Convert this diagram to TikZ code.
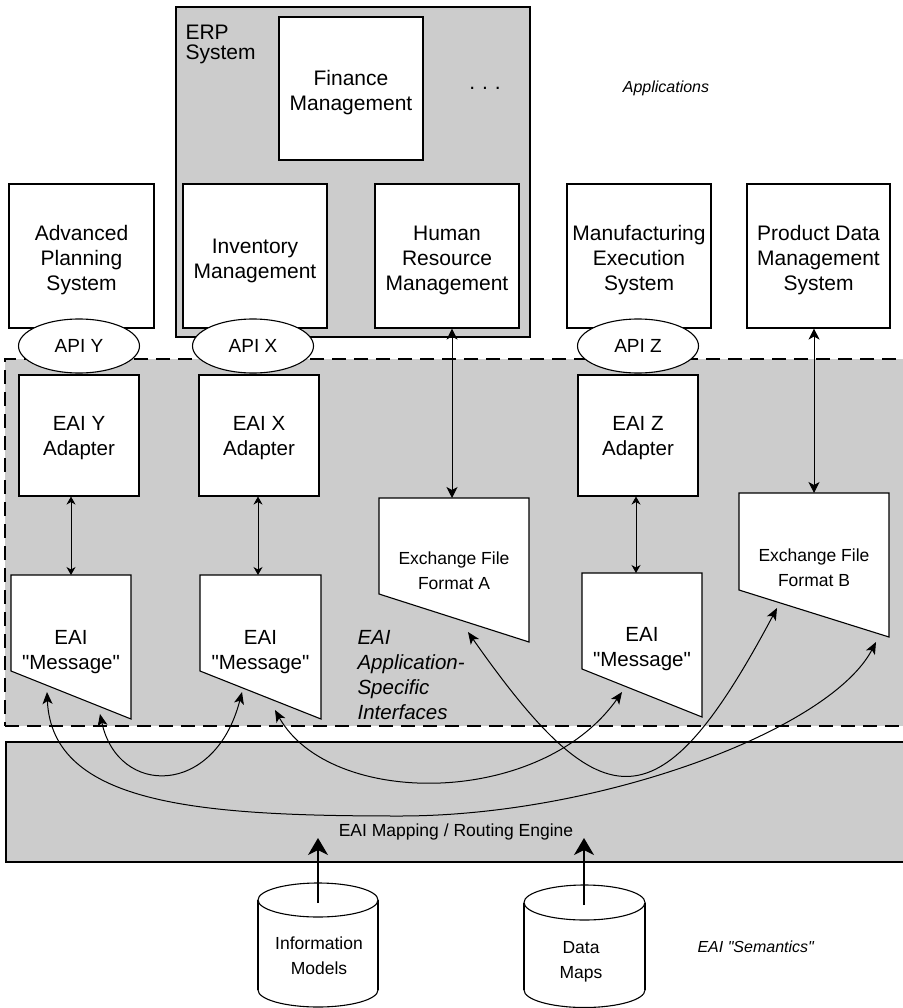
\documentclass[tikz,border=0pt]{standalone}
\usepackage{fontspec}
\setmainfont{Liberation Sans}[Ligatures=TeXOff]
\usetikzlibrary{arrows.meta,shapes.geometric}
\definecolor{eaigray}{HTML}{CCCCCC}
\newcommand{\fntBox}{\fontsize{21}{25}\selectfont}
\newcommand{\fntMsg}{\fontsize{20.5}{25}\selectfont}
\newcommand{\fntSmall}{\fontsize{17.5}{25}\selectfont}
\newcommand{\fntApi}{\fontsize{19}{22}\selectfont}
\newcommand{\fntItal}{\fontsize{16}{20}\selectfont\itshape}
\begin{document}
\begin{tikzpicture}[x=1pt,y=-1pt,line width=1.1pt,
  appbox/.style={draw,fill=white,inner sep=0pt,minimum width=144pt,minimum height=144pt},
  boxtext/.style={align=center,inner sep=0pt,font=\fntBox},
  adapter/.style={draw,fill=white,inner sep=0pt,minimum width=120pt,minimum height=121pt},
  apinode/.style={ellipse,draw,fill=white,inner sep=0pt,font=\fntApi,minimum width=121pt,minimum height=54pt},
  region/.style={draw,fill=eaigray,inner sep=0pt},
  msgtext/.style={align=center,inner sep=0pt,font=\fntMsg},
  exttext/.style={align=center,inner sep=0pt,font=\fntSmall},
  shapeline/.style={draw,fill=white,line join=miter},
  itlabel/.style={align=left,inner sep=0pt,font=\fntMsg\itshape},
  dblsmall/.style={{Stealth[length=8pt,width=9pt,inset=2.5pt]}-{Stealth[length=8pt,width=9pt,inset=2.5pt]},line width=0.9pt},
  dblmid/.style={{Stealth[length=11pt,width=11pt,inset=3pt]}-{Stealth[length=11pt,width=11pt,inset=3pt]},line width=1pt},
  curvearrow/.style={{Stealth[length=12pt,width=10pt,inset=3pt]}-{Stealth[length=12pt,width=10pt,inset=3pt]},line width=1pt},
  bigarrow/.style={-{Stealth[length=17pt,width=20pt,inset=5pt]},line width=1.2pt}
]
\useasboundingbox (0,0) rectangle (902,1008);

% background regions
\node[region,dashed,dash pattern=on 14pt off 8pt,minimum width=900pt,minimum height=367pt] (eai) at (455,542.5) {};
\node[region,minimum width=899pt,minimum height=120pt] (engine) at (455.5,802) {};
\node[region,minimum width=354pt,minimum height=330pt] (erp) at (353,172) {};

% labels
\node[align=left,inner sep=0pt,font=\fontsize{21}{20}\selectfont,anchor=west] (erplabel) at (185,44) {ERP\\System};
\node[appbox,minimum height=143pt] (fin) at (351,88.5) {};
\node[boxtext] (finT) at (351,92.5) {Finance\\Management};
\node[inner sep=0pt,font=\fntBox] (dots) at (485,88) {.\,\,.\,\,.};
\node[inner sep=0pt,font=\fntItal] (apps) at (666,88) {Applications};

% application boxes
\node[appbox,minimum width=145pt] (adv) at (81.5,256) {};
\node[boxtext] (advT) at (81.5,260.5) {Advanced\\Planning\\System};
\node[appbox] (inv) at (255,256) {};
\node[boxtext] (invT) at (255,260.5) {Inventory\\Management};
\node[appbox] (hr) at (447,256) {};
\node[boxtext] (hrT) at (447,260.5) {Human\\Resource\\Management};
\node[appbox] (mes) at (639,256) {};
\node[boxtext] (mesT) at (639,260.5) {Manufacturing\\Execution\\System};
\node[appbox,minimum width=143pt] (pdm) at (818.5,256) {};
\node[boxtext] (pdmT) at (818.5,260.5) {Product Data\\Management\\System};

% APIs
\node[apinode] (apiY) at (79,346) {API Y};
\node[apinode] (apiX) at (253,346) {API X};
\node[apinode] (apiZ) at (638,346) {API Z};

% adapters
\node[adapter] (adY) at (79,435.5) {};
\node[msgtext] (adYT) at (79,438.5) {EAI Y\\Adapter};
\node[adapter] (adX) at (259,435.5) {};
\node[msgtext] (adXT) at (259,438.5) {EAI X\\Adapter};
\node[adapter] (adZ) at (638,435.5) {};
\node[msgtext] (adZT) at (638,438.5) {EAI Z\\Adapter};

% messages
\path[shapeline] (11,575) -- (131,575) -- (131,719) -- (11,671) -- cycle;
\node[msgtext] (msgY) at (71,652) {EAI\\"Message"};
\path[shapeline] (200,575) -- (321,575) -- (321,719) -- (200,671) -- cycle;
\node[msgtext] (msgX) at (260.5,652) {EAI\\"Message"};
\path[shapeline] (582,573) -- (702,573) -- (702,717) -- (582,669) -- cycle;
\node[msgtext] (msgZ) at (642,649) {EAI\\"Message"};

% exchange files
\path[shapeline] (379,498) -- (529,498) -- (529,642) -- (379,594) -- cycle;
\node[exttext] (exA) at (454,571) {Exchange File\\Format A};
\path[shapeline] (739,493) -- (889,493) -- (889,637) -- (739,590) -- cycle;
\node[exttext] (exB) at (814,568) {Exchange File\\Format B};

% italic labels
\node[itlabel,anchor=west] (asi) at (357,675) {EAI\\Application-\\Specific\\Interfaces};
\node[inner sep=0pt,font=\fntItal,anchor=west] (sem) at (697,947) {EAI "Semantics"};

% engine label
\node[inner sep=0pt,font=\fntSmall] (englabel) at (456,832) {EAI Mapping / Routing Engine};

% cylinders
\draw[fill=white] (318,990) ellipse [x radius=60,y radius=17];
\fill[white] (258,900) rectangle (378,990);
\draw (258,900) -- (258,990) (378,900) -- (378,990);
\draw[fill=white] (318,900) ellipse [x radius=60,y radius=17];
\node[exttext] (info) at (319,956) {Information\\Models};

\draw[fill=white] (584.5,990) ellipse [x radius=60.5,y radius=17.5];
\fill[white] (524,902.5) rectangle (645,990);
\draw (524,902.5) -- (524,990) (645,902.5) -- (645,990);
\draw[fill=white] (584.5,902.5) ellipse [x radius=60.5,y radius=17.5];
\node[exttext] (dmaps) at (581,962) {Data\\Maps};

% coordinates for connector ends
\coordinate (mYtop) at (71,575);
\coordinate (mXtop) at (258,575);
\coordinate (mZtop) at (636,573);
\coordinate (eAtop) at (452,498);
\coordinate (eBtop) at (814,493);
\coordinate (infoTop) at (318,903);
\coordinate (infoTip) at (318,838);
\coordinate (dataTop) at (584,905);
\coordinate (dataTip) at (584,838);
\coordinate (cYa) at (47,692);
\coordinate (cYb) at (100,714);
\coordinate (cXa) at (242,692);
\coordinate (cXb) at (275,710);
\coordinate (cZa) at (622,692);
\coordinate (cAa) at (468,632);
\coordinate (cBa) at (777,608);
\coordinate (cBb) at (876,642);
\coordinate (cLow) at (400,816);

% vertical connectors
\draw[dblsmall] (mYtop |- adY.south) -- (mYtop);
\draw[dblsmall] (mXtop |- adX.south) -- (mXtop);
\draw[dblsmall] (mZtop |- adZ.south) -- (mZtop);
\draw[dblmid] (eAtop |- hr.south) -- (eAtop);
\draw[dblmid] (eBtop |- pdm.south) -- (eBtop);

% engine inputs
\draw[bigarrow] (infoTop) -- (infoTip);
\draw[bigarrow] (dataTop) -- (dataTip);

% routing curves
\draw[curvearrow] (cYa) .. controls (52,805) and (200,816) .. (cLow) .. controls (600,816) and (830,730) .. (cBb);
\draw[curvearrow] (cYb) .. controls (118,797) and (215,797) .. (cXa);
\draw[curvearrow] (cXb) .. controls (330,808) and (540,808) .. (cZa);
\draw[curvearrow] (cAa) .. controls (604,826) and (661,826) .. (cBa);
\end{tikzpicture}
\end{document}
